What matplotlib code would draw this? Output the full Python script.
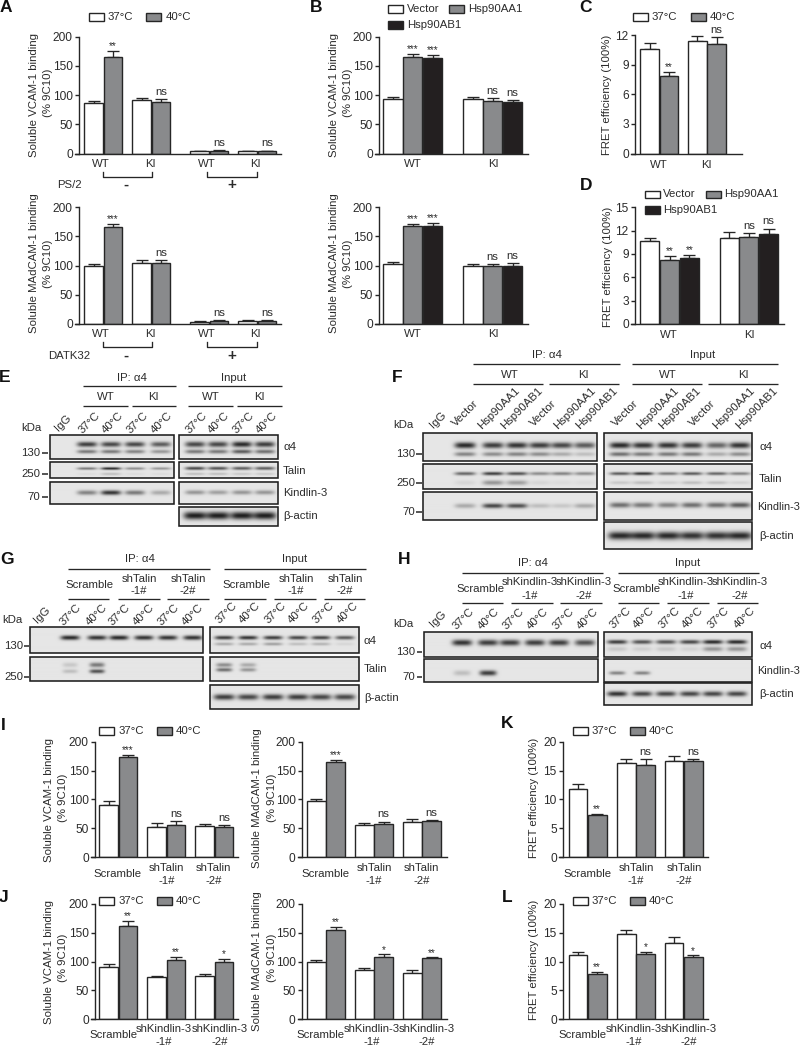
import numpy as np
import matplotlib
matplotlib.use('Agg')
import matplotlib.pyplot as plt
from matplotlib.patches import Rectangle

plt.rcParams['font.family'] = ['Liberation Sans', 'DejaVu Sans']

W, H = 800, 1046
TEXT = '#2b2b2b'
EDGE = '#262626'
WHITE, GREY, BLACK = '#ffffff', '#898a8c', '#231f20'
FS = 8.2

# bar values, one list per series, with the upper error next to it
a1_37 = [87, 91, 4, 3.5]
a1_37_err = [3, 3.5, 1, 1]
a1_40 = [166, 89, 4, 4]
a1_40_err = [10, 4, 1.5, 1]
a1_sig = ['**', 'ns', 'ns', 'ns']

a2_37 = [100, 105, 4, 5]
a2_37_err = [3, 4, 1, 1]
a2_40 = [167, 105, 5, 5]
a2_40_err = [4, 4, 1, 1]
a2_sig = ['***', 'ns', 'ns', 'ns']

b1_vec = [92.6, 92.6]
b1_vec_err = [4, 3.4]
b1_aa1 = [164.6, 89.7]
b1_aa1_err = [5.4, 5.7]
b1_ab1 = [164, 88]
b1_ab1_err = [5, 2.9]
b1_sig = ['***', 'ns']

b2_vec = [103, 99]
b2_vec_err = [4, 3]
b2_aa1 = [168, 100]
b2_aa1_err = [4, 3]
b2_ab1 = [168, 100]
b2_ab1_err = [5, 5]
b2_sig = ['***', 'ns']

c_37 = [10.55, 11.4]
c_37_err = [0.6, 0.5]
c_40 = [7.8, 11.1]
c_40_err = [0.5, 0.66]
c_sig = ['**', 'ns']

d_vec = [10.63, 11.1]
d_vec_err = [0.47, 0.73]
d_aa1 = [8.27, 11.14]
d_aa1_err = [0.52, 0.52]
d_ab1 = [8.49, 11.6]
d_ab1_err = [0.42, 0.66]
d_sig = ['**', 'ns']

i1_37 = [89.6, 52, 53]
i1_37_err = [6.9, 7, 4]
i1_40 = [173.4, 55.5, 52]
i1_40_err = [4.1, 6.3, 3]
i1_sig = ['***', 'ns', 'ns']

i2_37 = [97.7, 56, 60.7]
i2_37_err = [3.3, 3, 5.3]
i2_40 = [164.7, 57.2, 61.8]
i2_40_err = [4.1, 4.1, 2.2]
i2_sig = ['***', 'ns', 'ns']

j1_37 = [91.3, 72.8, 74.6]
j1_37_err = [4.1, 2.9, 3.4]
j1_40 = [161.3, 102.9, 100]
j1_40_err = [8.7, 5.1, 4.6]
j1_sig = ['**', '**', '*']

j2_37 = [100, 85.5, 79.8]
j2_37_err = [2.3, 3.5, 5.2]
j2_40 = [155, 108.7, 105.8]
j2_40_err = [5.7, 4, 1.7]
j2_sig = ['**', '*', '**']

k_37 = [11.8, 16.36, 16.65]
k_37_err = [0.86, 0.64, 0.92]
k_40 = [7.34, 16, 16.7]
k_40_err = [0.16, 1, 0.3]
k_sig = ['**', 'ns', 'ns']

l_37 = [11.2, 14.7, 13.3]
l_37_err = [0.4, 0.7, 0.9]
l_40 = [7.9, 11.36, 10.7]
l_40_err = [0.3, 0.34, 0.37]
l_sig = ['**', '*', '*']

binding_ticks = [0, 50, 100, 150, 200]
fret_12_ticks = [0, 3, 6, 9, 12]
fret_15_ticks = [0, 3, 6, 9, 12, 15]
fret_20_ticks = [0, 5, 10, 15, 20]

temps = ['37°C', '40°C']
hsp_labels = ['Vector', 'Hsp90AA1', 'Hsp90AB1']

# band strengths per lane on the blots, IgG lane first on the IP side
e_ip_a4 = [0, .85, .8, .8, .7]
e_ip_a4_low = [0, .55, .55, .5, .4]
e_ip_talin = [0, .55, .95, .45, .4]
e_ip_talin_low = [0, .05, .2, .05, .05]
e_ip_kind = [0, .5, .9, .55, .3]
e_in_a4 = [.8, .8, .95, .85]
e_in_a4_low = [.55, .55, .7, .6]
e_in_talin = [.8, .75, .7, .7]
e_in_talin_low = [.2, .2, .15, .15]
e_in_kind = [.4, .35, .4, .4]
e_in_actin = [1, 1, 1, 1]

f_ip_a4 = [0, .95, .85, .9, .85, .8, .7]
f_ip_a4_low = [0, .5, .45, .5, .45, .3, .2]
f_ip_talin = [0, .65, .85, .75, .45, .5, .45]
f_ip_talin_low = [0, .08, .4, .35, .08, .05, .05]
f_ip_kind = [0, .3, .8, .75, .2, .15, .3]
f_in_a4 = [.95, .9, .9, .85, .65, .9]
f_in_a4_low = [.6, .55, .55, .55, .3, .45]
f_in_talin = [.7, .9, .55, .7, .65, .5]
f_in_talin_low = [.15, .2, .12, .2, .2, .1]
f_in_kind = [.6, .55, .5, .6, .6, .7]
f_in_actin = [.95, .95, .95, .9, .9, .95]

g_ip_a4 = [0, .95, .9, .95, .9, .9, .9]
g_ip_talin = [0, .15, .55, 0, 0, 0, 0]
g_ip_talin_low = [0, .2, .75, 0, 0, 0, 0]
g_in_a4 = [.85, .9, .85, .8, .8, .7]
g_in_a4_low = [.3, .3, .35, .2, .25, .08]
g_in_talin = [.45, .3, 0, 0, 0, 0]
g_in_talin_low = [.6, .4, 0, 0, 0, 0]
g_in_actin = [.85, .8, .85, .85, .8, .8]

h_ip_a4 = [0, .9, .85, .85, .85, .85, .75]
h_ip_kind = [0, .2, .85, 0, 0, 0, 0]
h_in_a4 = [.85, .75, .75, .8, .95, .95]
h_in_a4_low = [.15, .12, .15, .1, .4, .4]
h_in_kind = [.5, .5, 0, 0, 0, 0]
h_in_actin = [.9, .8, .8, .8, .8, .8]


fig = plt.figure(figsize=(W / 100, H / 100), dpi=100)
ov = fig.add_axes([0, 0, 1, 1], zorder=5)
ov.patch.set_alpha(0)
ov.axis('off')


def t(x, y, s, size=FS, ha='center', va='center', **kw):
    ov.text(x, y, s, fontsize=size, ha=ha, va=va, color=TEXT, **kw)


def hline(x0, x1, y, lw=0.95):
    ov.plot([x0, x1], [y, y], color=EDGE, lw=lw, solid_capstyle='butt')


def bars(left, right, top, bottom, ymax, ticks, series, colors, lefts, bar_w, sig=None, sig_series=(1,)):
    ax = fig.add_axes([left / W, 1 - bottom / H, (right - left) / W, (bottom - top) / H])
    ax.set_xlim(left, right)
    ax.set_ylim(0, ymax)
    for k, (vals, errs) in enumerate(series):
        xs = [g + k * bar_w + bar_w / 2 for g in lefts]
        ax.bar(xs, vals, width=bar_w - 0.6, color=colors[k], edgecolor=EDGE, linewidth=1.0, zorder=2)
        ax.errorbar(xs, vals, yerr=[np.zeros(len(errs)), errs], fmt='none', ecolor=EDGE,
                    elinewidth=0.95, capsize=4.2, capthick=0.95, zorder=1)
        if sig and k in sig_series:
            for x, v, e, s in zip(xs, vals, errs, sig):
                if s == 'ns':
                    ax.annotate(s, (x, v + e), xytext=(0, 5.2), textcoords='offset points',
                                ha='center', va='center', fontsize=FS, color=TEXT, clip_on=False)
                else:
                    ax.annotate(s, (x, v + e), xytext=(0, 3.4), textcoords='offset points',
                                ha='center', va='center', fontsize=7.2, color=TEXT, clip_on=False)
    for side in ['top', 'right']:
        ax.spines[side].set_visible(False)
    for side in ['left', 'bottom']:
        ax.spines[side].set_linewidth(1.0)
        ax.spines[side].set_color(EDGE)
    ax.spines['bottom'].set_bounds(left - 4, right)
    ax.spines['bottom'].set_clip_on(False)
    ax.set_xticks([])
    ax.set_yticks(ticks)
    ax.tick_params(axis='y', length=3, width=1.0, color=EDGE, labelsize=FS + 0.4, labelcolor=TEXT, pad=1.5)
    ax.patch.set_alpha(0)
    return ax


def swatch(x0, x1, y0, y1, color):
    ov.add_patch(Rectangle((x0, y0), x1 - x0, y1 - y0, facecolor=color, edgecolor=EDGE, lw=1.0))


def blot(x0, x1, y0, y1, lanes, band_w, rows):
    # rows are (y centre in px, half thickness in px, strength per lane)
    nx, ny = int((x1 - x0) * 2), int((y1 - y0) * 2)
    xx = np.linspace(x0, x1, nx)
    yy = np.linspace(y0, y1, ny)
    dark = np.zeros((ny, nx))
    for yc, th, strengths in rows:
        for lane, s in zip(lanes, strengths):
            if s > 0:
                prof_x = np.exp(-((xx - lane) / (band_w / 2)) ** 4)
                prof_y = np.exp(-((yy - yc) / (th * 1.2)) ** 2)
                dark += s * np.outer(prof_y, prof_x)
    img = 0.90 - 0.78 * np.clip(dark, 0, 1)
    ov.imshow(img, extent=(x0, x1, y1, y0), cmap='gray', vmin=0, vmax=1, aspect='auto', zorder=1, interpolation='bilinear')
    ov.add_patch(Rectangle((x0, y0), x1 - x0, y1 - y0, fill=False, edgecolor='#1e1e1e', lw=1.15, zorder=2))


def rot_labels(xs, y, labels):
    for x, s in zip(xs, labels):
        t(x, y, s, rotation=45)


def marker(x0, x1, y, s, tx):
    ov.plot([x0, x1], [y, y], color=EDGE, lw=1.1, solid_capstyle='butt')
    t(tx, y, s, ha='right')


# panel letters
for x, y, s in [(6, 8, 'A'), (316, 8, 'B'), (585, 8, 'C'), (586, 185, 'D'), (5, 378, 'E'), (397, 378, 'F'),
                (7, 560, 'G'), (404, 560, 'H'), (3, 725, 'I'), (4, 897, 'J'), (507, 723, 'K'), (507, 897, 'L')]:
    ov.text(x, y, s, fontsize=12.5, fontweight='bold', ha='center', va='center', color='#111111')

# A
bars(79, 281, 36.7, 153.5, 200, binding_ticks, [(a1_37, a1_37_err), (a1_40, a1_40_err)], [WHITE, GREY],
     [84, 132, 190, 238], 19.3, a1_sig)
bars(79, 281, 207.3, 324, 200, binding_ticks, [(a2_37, a2_37_err), (a2_40, a2_40_err)], [WHITE, GREY],
     [84, 132, 190, 238], 19.3, a2_sig)
swatch(88.7, 104, 13.3, 21, WHITE)
t(108, 17, temps[0], ha='left')
swatch(146, 161, 13.3, 21, GREY)
t(165.7, 17, temps[1], ha='left')
for y0, lab, lx, ly in [(164, 'PS/2', 56.7, 185), (334, 'DATK32', 47.7, 355.7)]:
    for x, s in zip([101, 150, 207, 255], ['WT', 'KI', 'WT', 'KI']):
        t(x, y0, s)
    for a, b in [(102.7, 152), (207.3, 256.7)]:
        ov.plot([a, a, b, b], [y0 + 8, y0 + 13, y0 + 13, y0 + 8], color=EDGE, lw=0.95)
    t(lx, ly, lab, ha='left')
    t(126, ly, '-', size=11, fontweight='bold')
    t(232, ly, '+', size=11, fontweight='bold')
for x1, x2 in [(34, 48), (334.3, 347.7)]:
    t(x1, 94.7, 'Soluble VCAM-1 binding', rotation=90)
    t(x2, 93, '(% 9C10)', rotation=90)
    t(x1, 263, 'Soluble MAdCAM-1 binding', rotation=90)
    t(x2, 264, '(% 9C10)', rotation=90)

# B
three = [WHITE, GREY, BLACK]
bars(379, 528, 36.7, 153.5, 200, binding_ticks,
     [(b1_vec, b1_vec_err), (b1_aa1, b1_aa1_err), (b1_ab1, b1_ab1_err)], three, [383, 463], 19.8, b1_sig, (1, 2))
bars(379, 528, 207.3, 324, 200, binding_ticks,
     [(b2_vec, b2_vec_err), (b2_aa1, b2_aa1_err), (b2_ab1, b2_ab1_err)], three, [383, 463], 19.8, b2_sig, (1, 2))
swatch(388, 403, 5, 13, WHITE)
t(407, 9, hsp_labels[0], ha='left')
swatch(449, 464, 5, 13, GREY)
t(467.7, 9, hsp_labels[1], ha='left')
swatch(388, 403, 21, 29, BLACK)
t(406.7, 25, hsp_labels[2], ha='left')
for y in [164, 334]:
    t(413, y, 'WT')
    t(493, y, 'KI')

# C
bars(635, 741.7, 35, 153.5, 12, fret_12_ticks, [(c_37, c_37_err), (c_40, c_40_err)], [WHITE, GREY],
     [640, 687.7], 19.3, c_sig)
swatch(632.7, 648, 13.3, 21, WHITE)
t(652, 17, temps[0], ha='left')
swatch(690.7, 706, 13.3, 21, GREY)
t(710, 17, temps[1], ha='left')
t(607, 95, 'FRET efficiency (100%)', rotation=90)
t(659, 165, 'WT')
t(706, 165, 'KI')

# D
bars(635, 784, 207.3, 324, 15, fret_15_ticks,
     [(d_vec, d_vec_err), (d_aa1, d_aa1_err), (d_ab1, d_ab1_err)], three, [640, 719.3], 19.7, d_sig, (1, 2))
swatch(645, 660, 190.7, 198.3, WHITE)
t(663, 194, hsp_labels[0], ha='left')
swatch(706, 721, 190.7, 198.3, GREY)
t(724, 194, hsp_labels[1], ha='left')
swatch(645, 660, 206, 213.7, BLACK)
t(663, 210, hsp_labels[2], ha='left')
t(608, 266.7, 'FRET efficiency (100%)', rotation=90)
t(669, 335, 'WT')
t(749, 335, 'KI')

# E
t(132, 378, 'IP: α4')
t(234, 378, 'Input')
hline(83, 176, 386)
hline(188, 282, 386)
for x, s in zip([106, 153, 211, 259], ['WT', 'KI', 'WT', 'KI']):
    t(x, 397, s)
for a, b in [(83, 128), (132, 176), (188, 233), (237, 282)]:
    hline(a, b, 406)
rot_labels([63, 89, 113, 137, 162], 423, ['IgG'] + temps * 2)
rot_labels([196, 219, 243, 267], 423, temps * 2)
t(31, 428, 'kDa')
lanes = [63, 87, 111, 135, 161]
blot(50, 174, 435, 459, lanes, 20, [(444.3, 2.2, e_ip_a4), (451.7, 1.6, e_ip_a4_low)])
blot(50, 174, 461.7, 478.3, lanes, 20, [(469, 1.1, e_ip_talin), (474.5, 1.1, e_ip_talin_low)])
blot(50, 174, 481.7, 504, lanes, 20, [(493, 1.9, e_ip_kind)])
lanes = [195, 218, 242, 265]
blot(179, 278, 435, 459, lanes, 20, [(444.3, 2.4, e_in_a4), (451.7, 1.7, e_in_a4_low)])
blot(179, 278, 462, 478.3, lanes, 20, [(469, 1.3, e_in_talin), (474.5, 1.1, e_in_talin_low)])
blot(179, 278, 481.7, 503.5, lanes, 20, [(493, 1.9, e_in_kind)])
blot(179, 278, 506.7, 526, lanes, 23, [(516, 3.2, e_in_actin)])
for y, s in [(453, '130'), (474, '250'), (497, '70')]:
    marker(42, 47.7, y, s, 40)
for y, s in [(447, 'α4'), (471, 'Talin'), (493, 'Kindlin-3'), (516, 'β-actin')]:
    t(283, y, s, ha='left')

# F
t(547, 355, 'IP: α4')
t(703, 355, 'Input')
hline(473, 620, 364)
hline(632, 778, 364)
for x, s in zip([510, 583, 668, 743], ['WT', 'KI', 'WT', 'KI']):
    t(x, 375, s)
for a, b in [(473, 543), (549, 619), (632, 702), (708, 778)]:
    hline(a, b, 384)
for x, y, s in zip([438, 465, 499, 522, 543, 575, 597], [420, 413, 408, 408, 413, 408, 408],
                   ['IgG'] + hsp_labels * 2):
    t(x, y, s, rotation=45)
for x, y, s in zip([625, 658, 680, 702, 734, 757], [413, 408, 408, 413, 408, 408], hsp_labels * 2):
    t(x, y, s, rotation=45)
t(403, 425, 'kDa')
lanes = [440, 465, 493, 517, 540, 562, 585]
blot(423, 597, 432.7, 460.7, lanes, 21, [(445, 2.6, f_ip_a4), (454, 1.8, f_ip_a4_low)])
blot(423, 597, 464, 489.3, lanes, 21, [(474.3, 1.4, f_ip_talin), (483.3, 2.0, f_ip_talin_low)])
blot(423, 597, 492.3, 520, lanes, 21, [(506, 2.0, f_ip_kind)])
lanes = [620, 643, 668, 692, 717, 740]
blot(604, 752, 432.7, 460.7, lanes, 21, [(445, 2.6, f_in_a4), (454, 1.8, f_in_a4_low)])
blot(604, 752, 464, 489.3, lanes, 21, [(474.3, 1.3, f_in_talin), (483.3, 1.4, f_in_talin_low)])
blot(604, 752, 492.3, 519.5, lanes, 21, [(506, 2.2, f_in_kind)])
blot(604, 752, 522, 549, lanes, 24, [(535.7, 3.4, f_in_actin)])
for y, s in [(454, '130'), (483, '250'), (512, '70')]:
    marker(416, 421.7, y, s, 415)
for y, s in [(447, 'α4'), (479, 'Talin'), (536, 'β-actin')]:
    t(759, y, s, ha='left')
t(757, 507, 'Kindlin-3', size=7.9, ha='left')

# G
t(140, 559, 'IP: α4')
t(295, 559, 'Input')
hline(68, 210, 569)
hline(224, 366, 569)
for cx in [90, 247]:
    t(cx, 585, 'Scramble')
for cx, s in [(139, '-1#'), (188, '-2#'), (296, '-1#'), (345, '-2#')]:
    t(cx, 579, 'shTalin')
    t(cx, 591, s)
for a, b in [(68, 109), (118, 160), (167, 209), (224, 266), (274, 316), (324, 365)]:
    hline(a, b, 599)
rot_labels([42, 70, 97, 119, 144, 168, 193], 615, ['IgG'] + temps * 3)
rot_labels([226, 250, 275, 299, 323, 348], 613, temps * 3)
t(12, 620, 'kDa')
lanes = [42, 70, 97, 119, 144, 168, 193]
blot(30, 203, 627.3, 652.7, lanes, 19, [(637.7, 1.9, g_ip_a4)])
blot(30, 203, 657.3, 681, lanes, 15, [(665, 2.0, g_ip_talin), (671.5, 1.7, g_ip_talin_low)])
lanes = [224, 248, 273, 298, 321, 345]
blot(210, 359, 627.3, 652.7, lanes, 19, [(637.7, 1.6, g_in_a4), (644, 1.3, g_in_a4_low)])
blot(210, 359, 657.3, 681, lanes, 16, [(665, 1.7, g_in_talin), (670, 1.6, g_in_talin_low)])
blot(210, 359, 685, 709.3, lanes, 21, [(697.7, 2.4, g_in_actin)])
for y, s in [(646, '130'), (677, '250')]:
    marker(23.5, 28.5, y, s, 23)
for y, s in [(641, 'α4'), (669, 'Talin'), (698, 'β-actin')]:
    t(364, y, s, ha='left')

# H
t(533, 563, 'IP: α4')
t(688, 563, 'Input')
hline(462, 603, 573)
hline(618, 759, 573)
for cx in [481, 637]:
    t(cx, 589, 'Scramble')
for cx, s in [(530, '-1#'), (584, '-2#'), (686, '-1#'), (740, '-2#')]:
    t(cx, 582, 'shKindlin-3')
    t(cx, 596, s)
for a, b in [(462, 503), (511, 553), (560, 602), (618, 659), (667, 709), (717, 758)]:
    hline(a, b, 603)
rot_labels([438, 463, 489, 513, 538, 563, 588], 619, ['IgG'] + temps * 3)
rot_labels([620, 644, 669, 693, 718, 745], 618, temps * 3)
t(403, 624, 'kDa')
lanes = [438, 462, 488, 510, 535, 559, 585]
blot(424, 598, 632.3, 656.7, lanes, 20, [(642.7, 2.5, h_ip_a4)])
blot(424, 598, 659.3, 681.7, lanes, 17, [(673, 2.2, h_ip_kind)])
lanes = [617, 642, 666, 690, 713, 737]
blot(604, 752, 632.3, 656.7, lanes, 20, [(642, 1.7, h_in_a4), (649, 2.0, h_in_a4_low)])
blot(604, 752, 659.3, 681.7, lanes, 16, [(673, 1.5, h_in_kind)])
blot(604, 752, 683.3, 705, lanes, 20, [(694, 2.2, h_in_actin)])
for y, s in [(652, '130'), (677, '70')]:
    marker(417, 422, y, s, 415)
for y, s in [(646, 'α4'), (694, 'β-actin')]:
    t(759, y, s, ha='left')
t(757, 671, 'Kindlin-3', size=7.9, ha='left')

# I and J
bars(95, 238, 741.7, 857, 200, binding_ticks, [(i1_37, i1_37_err), (i1_40, i1_40_err)], [WHITE, GREY],
     [99, 147, 195], 19.3, i1_sig)
bars(301.7, 446.7, 741.7, 857, 200, binding_ticks, [(i2_37, i2_37_err), (i2_40, i2_40_err)], [WHITE, GREY],
     [306.7, 354.7, 402.7], 19.3, i2_sig)
bars(95, 238, 904, 1019.3, 200, binding_ticks, [(j1_37, j1_37_err), (j1_40, j1_40_err)], [WHITE, GREY],
     [99, 147, 195], 19.3, j1_sig)
bars(301.7, 446.7, 904, 1019.3, 200, binding_ticks, [(j2_37, j2_37_err), (j2_40, j2_40_err)], [WHITE, GREY],
     [306.7, 354.7, 402.7], 19.3, j2_sig)
for y0, y1, ty in [(726.7, 735, 731), (896.7, 905, 901)]:
    swatch(99, 114.3, y0, y1, WHITE)
    t(119, ty, temps[0], ha='left')
    swatch(156.7, 171.7, y0, y1, GREY)
    t(176, ty, temps[1], ha='left')
t(49, 800, 'Soluble VCAM-1 binding', rotation=90)
t(63, 797.5, '(% 9C10)', rotation=90)
t(256.7, 798, 'Soluble MAdCAM-1 binding', rotation=90)
t(271.7, 797.5, '(% 9C10)', rotation=90)
t(49, 962, 'Soluble VCAM-1 binding', rotation=90)
t(63, 958, '(% 9C10)', rotation=90)
t(256.7, 961, 'Soluble MAdCAM-1 binding', rotation=90)
t(271.7, 958, '(% 9C10)', rotation=90)
for sx, a, b in [(118, 166.7, 213.5), (326, 374, 421.7), (588, 636, 684)]:
    t(sx, 874, 'Scramble')
    t(a, 867.7, 'shTalin')
    t(a, 880.7, '-1#')
    t(b, 867.7, 'shTalin')
    t(b, 880.7, '-2#')
for sx, a, b in [(114, 164, 220), (321, 372, 427), (583, 634, 689)]:
    t(sx, 1035, 'Scramble')
    t(a, 1029, 'shKindlin-3')
    t(a, 1042, '-1#')
    t(b, 1029, 'shKindlin-3')
    t(b, 1042, '-2#')

# K and L
bars(563, 708, 741.7, 857, 20, fret_20_ticks, [(k_37, k_37_err), (k_40, k_40_err)], [WHITE, GREY],
     [568.3, 616.7, 664.3], 19.3, k_sig)
bars(563, 708, 904, 1019, 20, fret_20_ticks, [(l_37, l_37_err), (l_40, l_40_err)], [WHITE, GREY],
     [568.3, 616.7, 664.3], 19.3, l_sig)
for y0, y1, ty in [(726.7, 735, 731), (897.3, 905, 901)]:
    swatch(572.7, 588.3, y0, y1, WHITE)
    t(592, ty, temps[0], ha='left')
    swatch(630, 645, y0, y1, GREY)
    t(649, ty, temps[1], ha='left')
t(534, 798, 'FRET efficiency (100%)', rotation=90)
t(534, 959.5, 'FRET efficiency (100%)', rotation=90)

ov.set_xlim(0, W)
ov.set_ylim(H, 0)

fig.savefig('out.png', dpi=100)
